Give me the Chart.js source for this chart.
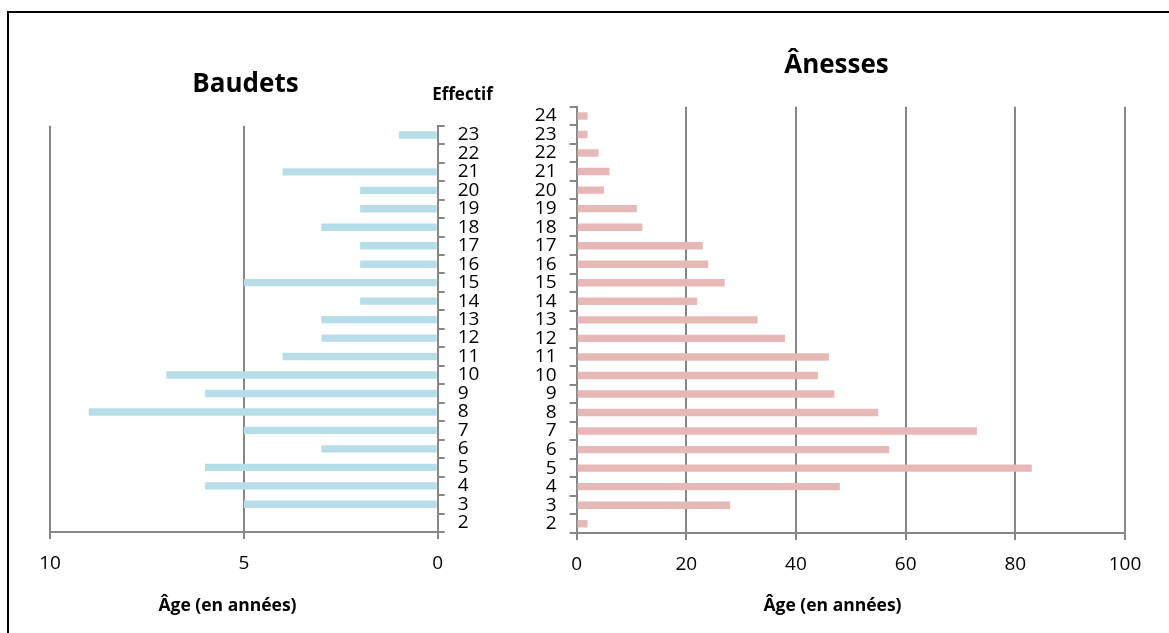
<!DOCTYPE html>
<html>
<head>
<meta charset="utf-8">
<script src="https://cdn.jsdelivr.net/npm/chart.js@4/dist/chart.umd.min.js"></script>
<style>
  html, body { margin: 0; padding: 0; background: #fff; }
  #page { position: relative; width: 1169px; height: 633px; overflow: hidden; font-family: 'Open Sans', sans-serif; }
  #frame { position: absolute; left: 7px; top: 11px; width: 1300px; height: 800px;
           border-left: 2px solid #000; border-top: 2px solid #000; }
  canvas { position: absolute; top: 0; }
  #cLeft { left: 0; }
  #cRight { left: 500px; }
  .lbl { position: absolute; transform: translate(-50%, -50%); white-space: nowrap;
         font-weight: bold; line-height: 1; color: #000; }
</style>
</head>
<body>
<div id="page">
  <div id="frame"></div>
  <canvas id="cLeft" width="500" height="633"></canvas>
  <canvas id="cRight" width="669" height="633"></canvas>
  <div class="lbl" style="left:245.5px; top:81.5px; font-size:26px;">Baudets</div>
  <div class="lbl" style="left:462.5px; top:93px; font-size:17px;">Effectif</div>
  <div class="lbl" style="left:836.5px; top:63px; font-size:26px;">Ânesses</div>
  <div class="lbl" style="left:227.5px; top:605px; font-size:17.5px;">Âge (en années)</div>
  <div class="lbl" style="left:832.5px; top:605px; font-size:17.5px;">Âge (en années)</div>
</div>
<script>
// Âge (années) et effectifs par sexe
const agesBaudets = ['2','3','4','5','6','7','8','9','10','11','12','13','14','15','16','17','18','19','20','21','22','23'];
const effectifBaudets = [0, 5, 6, 6, 3, 5, 9, 6, 7, 4, 3, 3, 2, 5, 2, 2, 3, 2, 2, 4, 0, 1];

const agesAnesses = ['2','3','4','5','6','7','8','9','10','11','12','13','14','15','16','17','18','19','20','21','22','23','24'];
const effectifAnesses = [2, 28, 48, 83, 57, 73, 55, 47, 44, 46, 38, 33, 22, 27, 24, 23, 12, 11, 5, 6, 4, 2, 2];

const ticksBaudets = [0, 5, 10];
const ticksAnesses = [0, 20, 40, 60, 80, 100];

const FONT = "'Open Sans', sans-serif";
const GRID = '#878787';

function axisX(max, step, reverse, pad) {
  return {
    type: 'linear', min: 0, max: max, reverse: reverse,
    ticks: { stepSize: step, color: '#000', font: { family: FONT, size: 19 }, padding: pad, maxRotation: 0 },
    grid: { color: GRID, lineWidth: 2, tickLength: 7, drawTicks: true },
    border: { display: true, color: GRID, width: 2 },
    afterFit(s) { s.height = 60; }
  };
}

function axisY(side) {
  return {
    type: 'category', position: side, reverse: true, offset: true,
    grid: { offset: true, drawOnChartArea: false, color: GRID, lineWidth: 2, tickLength: 7 },
    border: { display: true, color: GRID, width: 2 },
    ticks: { color: '#000', font: { family: FONT, size: 19 }, padding: 13, autoSkip: false },
    afterFit(s) { s.width = 50; }
  };
}

function barChart(id, labels, values, colour, xAxis, yAxis, padding) {
  return new Chart(document.getElementById(id), {
    type: 'bar',
    data: {
      labels: labels,
      datasets: [{ data: values, backgroundColor: colour, barPercentage: 0.4, categoryPercentage: 1 }]
    },
    options: {
      responsive: false, animation: false, indexAxis: 'y',
      layout: { padding: padding },
      plugins: { legend: { display: false }, tooltip: { enabled: false } },
      scales: { x: xAxis, y: yAxis }
    }
  });
}

// Baudets : axe des effectifs inversé, âges à droite
const xB = axisX(10, 5, true, 13);
xB.afterBuildTicks = s => { s.ticks = ticksBaudets.map(v => ({ value: v })); };
barChart('cLeft', agesBaudets, effectifBaudets, '#B7DEE8', xB, axisY('right'),
  { left: 50, top: 125.7, right: 12.3, bottom: 41 });

// Ânesses : âges à gauche
const xA = axisX(100, 20, false, 13);
xA.afterBuildTicks = s => { s.ticks = ticksAnesses.map(v => ({ value: v })); };
barChart('cRight', agesAnesses, effectifAnesses, '#E6B9B8', xA, axisY('left'),
  { left: 26.6, top: 106.7, right: 44, bottom: 40 });
</script>
</body>
</html>
